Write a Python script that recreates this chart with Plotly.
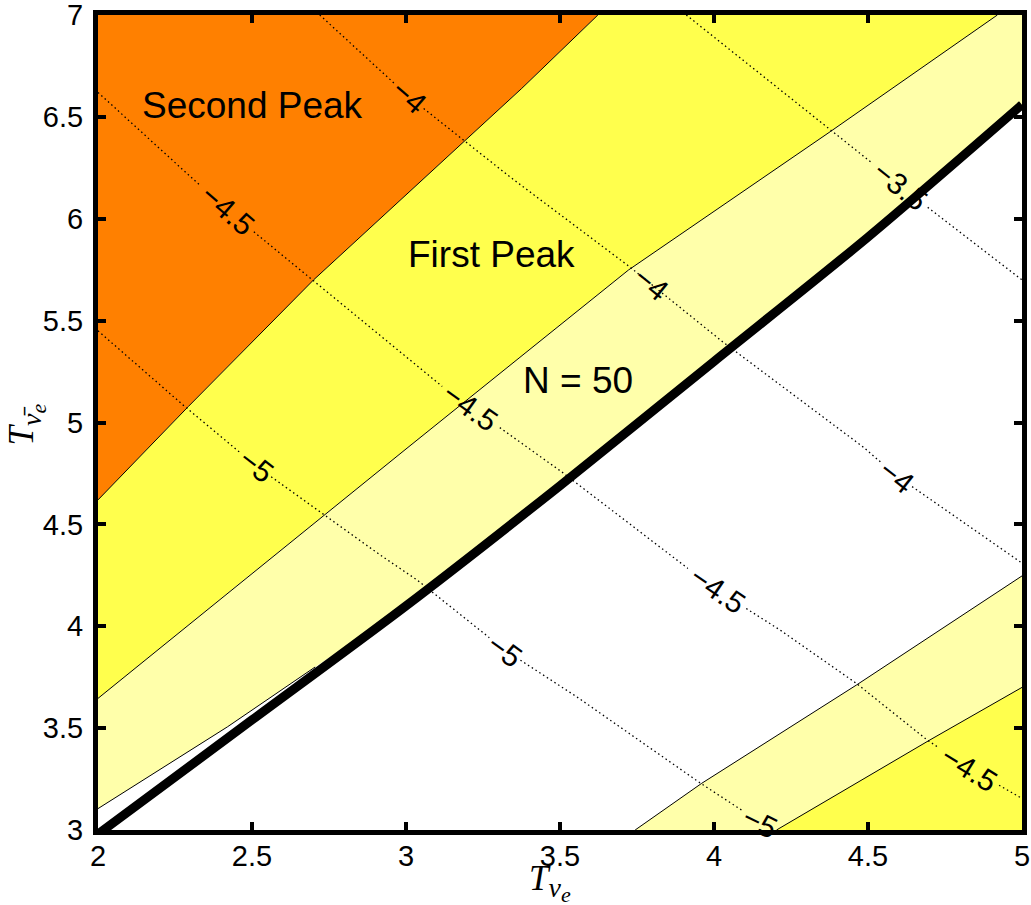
import numpy as np
import plotly.graph_objects as go

# ejes
X_RANGE = [2, 5]
Y_RANGE = [3, 7]
X_TICKS = [2, 2.5, 3, 3.5, 4, 4.5, 5]
Y_TICKS = [3, 3.5, 4, 4.5, 5, 5.5, 6, 6.5, 7]
W, H = 1031, 905
M = dict(l=98, r=9, t=15, b=75)

# fronteras de las regiones
second_peak_x = [2.0, 2.293, 2.70, 3.376, 3.623]
second_peak_y = [4.62, 5.078, 5.70, 6.64, 7.0]
first_peak_x = [2.0, 2.5, 3.0, 3.37, 3.722, 4.377, 4.92]
first_peak_y = [3.646, 4.26, 4.87, 5.32, 5.748, 6.427, 7.0]
band_left_x = [2.0, 2.42, 2.705]
band_left_y = [3.105, 3.506, 3.80]
n50_x = [2.0, 2.5, 3.0, 3.5, 4.0, 4.5, 5.0]
n50_y = [2.98, 3.54, 4.10, 4.69, 5.30, 5.91, 6.56]
low_outer_x = [3.744, 3.96, 4.463, 5.0]
low_outer_y = [3.0, 3.229, 3.712, 4.247]
low_inner_x = [4.203, 4.701, 5.0]
low_inner_y = [3.0, 3.442, 3.70]

# curvas punteadas (log10)
c35_x = [3.91, 4.367, 4.692, 5.0]
c35_y = [7.0, 6.450, 6.058, 5.70]
c40_x = [2.72, 3.010, 3.185, 3.338, 3.727, 4.029, 4.484, 4.594, 5.0]
c40_y = [7.0, 6.598, 6.387, 6.205, 5.763, 5.395, 4.880, 4.737, 4.31]
c45_x = [2.0, 2.419, 2.698, 3.120, 3.211, 3.506, 3.922, 4.010, 4.214, 4.461, 4.692, 4.828, 5.0]
c45_y = [6.62, 6.043, 5.699, 5.174, 5.076, 4.757, 4.276, 4.178, 3.982, 3.721, 3.442, 3.304, 3.155]
c50_x = [2.0, 2.276, 2.513, 2.916, 3.036, 3.321, 3.555, 3.955, 4.149, 4.198]
c50_y = [5.45, 5.086, 4.787, 4.350, 4.227, 3.883, 3.653, 3.231, 3.039, 3.0]

# posiciones de las etiquetas sobre cada curva
lbl35_x = [4.604]
lbl40_x = [3.010, 3.795, 4.594]
lbl45_x = [2.419, 3.211, 4.010, 4.828]
lbl50_x = [2.513, 3.321, 4.149]

# textos de las regiones
region_txt = ['Second Peak', 'First Peak', 'N = 50']
region_x = [2.50, 3.276, 3.558]
region_y = [6.558, 5.826, 5.205]

ORANGE = '#FF8000'
YELLOW = '#FFFF4D'
LIGHT = '#FFFFAA'
LBL_FS = 30
SANS = 'Liberation Sans, Arial'
SERIF = 'Liberation Serif, serif'

pw = W - M['l'] - M['r']
ph = H - M['t'] - M['b']
sx = pw / (X_RANGE[1] - X_RANGE[0])
sy = ph / (Y_RANGE[1] - Y_RANGE[0])

fig = go.Figure()

def poly(xs, ys, color):
    fig.add_trace(go.Scatter(x=xs, y=ys, fill='toself', fillcolor=color, mode='none',
                             hoverinfo='skip', showlegend=False))

def line(xs, ys, width=1, dash='solid', shape='spline'):
    fig.add_trace(go.Scatter(x=xs, y=ys, mode='lines', hoverinfo='skip', showlegend=False,
                             line=dict(color='black', width=width, dash=dash, shape=shape,
                                       smoothing=0.8)))

x0, x1 = X_RANGE
y0, y1 = Y_RANGE

# Second Peak (naranja)
poly([x0] + second_peak_x, [y1] + second_peak_y, ORANGE)
# First Peak (amarillo)
poly(second_peak_x + first_peak_x[::-1], second_peak_y + first_peak_y[::-1], YELLOW)
# banda clara
keep = [i for i, v in enumerate(n50_x) if v > band_left_x[-1] + 0.05]
lower_x = band_left_x + [n50_x[i] for i in keep]
lower_y = band_left_y + [n50_y[i] for i in keep]
poly(first_peak_x + [x1] + lower_x[::-1], first_peak_y + [y1] + lower_y[::-1], LIGHT)
# esquina inferior derecha
poly(low_outer_x + [x1], low_outer_y + [y0], LIGHT)
poly(low_inner_x + [x1], low_inner_y + [y0], YELLOW)

for bx, by in [(second_peak_x, second_peak_y), (first_peak_x, first_peak_y),
               (band_left_x, band_left_y), (low_outer_x, low_outer_y), (low_inner_x, low_inner_y)]:
    line(bx, by, width=1, shape='linear')

# curvas punteadas con hueco en las etiquetas
labels = []
for cx, cy, lx, txt in [(c35_x, c35_y, lbl35_x, '\u22123.5'), (c40_x, c40_y, lbl40_x, '\u22124'),
                        (c45_x, c45_y, lbl45_x, '\u22124.5'), (c50_x, c50_y, lbl50_x, '\u22125')]:
    gaps = []
    for xl in lx:
        yl = float(np.interp(xl, cx, cy))
        slope = (np.interp(xl + 0.08, cx, cy) - np.interp(xl - 0.08, cx, cy)) / 0.16
        ang = np.degrees(np.arctan(-slope * sy / sx))
        half = (0.27 * LBL_FS * len(txt) + 3) * np.cos(np.radians(ang)) / sx
        gaps.append((xl - half, xl + half))
        labels.append((xl, yl, ang, txt))
    xs = sorted(set(cx) | {g for gap in gaps for g in gap})
    ox, oy = [], []
    for xv in xs:
        if any(a < xv < b for a, b in gaps):
            if ox and ox[-1] is not None:
                ox.append(None)
                oy.append(None)
            continue
        ox.append(xv)
        oy.append(float(np.interp(xv, cx, cy)))
    line(ox, oy, width=1.3, dash='1.5px,3px', shape='linear')

# N = 50 (linea gruesa)
line(n50_x, n50_y, width=9)

for xl, yl, ang, txt in labels:
    fig.add_annotation(x=xl, y=yl, text=txt, showarrow=False, textangle=ang,
                       font=dict(family=SANS, size=LBL_FS, color='black'))

for txt, tx, ty in zip(region_txt, region_x, region_y):
    fig.add_annotation(x=tx, y=ty, text=txt, showarrow=False,
                       font=dict(family=SANS, size=37, color='black'))

# titulos de los ejes
t_nu = ('<i>T</i><sub><span style="font-size:28px"><i>\u03bd</i></span>'
        '<sub><span style="font-size:22px"><i>e</i></span></sub></sub>')
t_nubar = ('<i>T</i><sub><span style="font-size:28px"><i>\u03bd\u0304</i></span>'
           '<sub><span style="font-size:22px"><i>e</i></span></sub></sub>')
fig.add_annotation(xref='paper', yref='paper', x=0.464, y=-0.033, xanchor='left', yanchor='top',
                   showarrow=False, text=t_nu, font=dict(family=SERIF, size=35, color='black'))
fig.add_annotation(xref='paper', yref='paper', x=-0.078, y=0.4975, xanchor='center',
                   yanchor='middle', showarrow=False, textangle=-90,
                   text=t_nubar, font=dict(family=SERIF, size=35, color='black'))

ax = dict(showgrid=False, zeroline=False, showline=True, linewidth=5, linecolor='black',
          mirror='ticks', ticks='inside', ticklen=8, tickwidth=4, tickcolor='black',
          automargin=False, ticklabeloverflow='allow',
          tickfont=dict(family=SANS, size=29, color='black'))
fig.update_xaxes(range=X_RANGE, tickvals=X_TICKS, ticktext=[f'{v:g}' for v in X_TICKS],
                 ticklabelstandoff=-4, **ax)
fig.update_yaxes(range=Y_RANGE, tickvals=Y_TICKS, ticktext=[f'{v:g}' for v in Y_TICKS],
                 ticklabelstandoff=4, **ax)
fig.update_layout(width=W, height=H, margin=M, plot_bgcolor='white', paper_bgcolor='white',
                  showlegend=False)
# sin margen en el body para que la figura quede en (0, 0)
fig.write_html("out.html", config={'displayModeBar': False},
               post_script="document.body.style.margin = '0';")
